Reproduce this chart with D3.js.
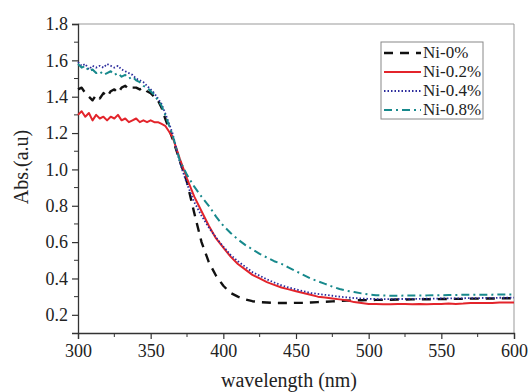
<!DOCTYPE html>
<html><head><meta charset="utf-8">
<script src="https://cdn.jsdelivr.net/npm/d3@7"></script>
<style>body{margin:0;background:#fff}svg{display:block}text{font-family:"Liberation Serif","Times New Roman",serif;fill:#222}</style>
</head><body><svg id="c" width="529" height="392"></svg>
<script>
const wavelength = [300,302.5,305,307.5,310,312.5,315,317.5,320,322.5,325,327.5,330,332.5,335,337.5,340,342.5,345,347.5,350,352.5,355,357.5,360,
365,370,375,380,385,390,395,400,405,410,415,420,425,430,435,440,445,450,455,460,465,470,475,480,485,490,495,500,505,510,515,520,525,530,535,540,545,550,555,560,565,570,575,580,585,590,595,600];

const ni0 = [1.44,1.45,1.42,1.40,1.38,1.41,1.39,1.42,1.40,1.43,1.44,1.42,1.45,1.46,1.44,1.45,1.45,1.44,1.45,1.43,1.42,1.40,1.38,1.34,1.28,
1.17,1.05,0.93,0.76,0.60,0.49,0.415,0.36,0.32,0.30,0.285,0.275,0.27,0.268,0.265,0.265,0.265,0.266,0.266,0.268,0.27,0.272,0.274,0.276,0.278,0.28,0.28,0.281,0.282,0.282,0.283,0.284,0.284,0.285,0.285,0.286,0.286,0.287,0.287,0.288,0.288,0.289,0.289,0.29,0.29,0.29,0.291,0.291];

const ni02 = [1.30,1.32,1.29,1.31,1.27,1.30,1.28,1.29,1.27,1.29,1.28,1.30,1.27,1.28,1.26,1.27,1.28,1.26,1.27,1.26,1.27,1.26,1.26,1.25,1.24,
1.18,1.06,0.95,0.85,0.77,0.69,0.62,0.57,0.52,0.48,0.45,0.42,0.40,0.38,0.365,0.35,0.34,0.33,0.32,0.31,0.30,0.295,0.29,0.285,0.28,0.27,0.265,0.26,0.26,0.258,0.258,0.26,0.26,0.258,0.26,0.258,0.26,0.26,0.262,0.26,0.262,0.265,0.265,0.265,0.265,0.268,0.268,0.268];

const ni04 = [1.59,1.57,1.58,1.55,1.57,1.56,1.57,1.56,1.58,1.57,1.56,1.57,1.55,1.54,1.53,1.52,1.50,1.49,1.48,1.46,1.44,1.42,1.39,1.36,1.31,
1.20,1.04,0.92,0.82,0.745,0.68,0.625,0.575,0.53,0.495,0.465,0.435,0.415,0.395,0.378,0.362,0.35,0.34,0.33,0.32,0.315,0.31,0.305,0.30,0.296,0.292,0.29,0.288,0.287,0.286,0.286,0.287,0.287,0.288,0.288,0.289,0.289,0.29,0.29,0.291,0.291,0.292,0.292,0.293,0.293,0.294,0.294,0.295];

const ni08 = [1.58,1.56,1.57,1.54,1.55,1.53,1.54,1.52,1.53,1.54,1.52,1.53,1.51,1.52,1.50,1.51,1.49,1.48,1.46,1.45,1.43,1.41,1.38,1.35,1.30,
1.19,1.05,0.97,0.905,0.85,0.80,0.74,0.69,0.65,0.615,0.585,0.56,0.535,0.515,0.495,0.48,0.46,0.44,0.42,0.40,0.385,0.37,0.355,0.342,0.332,0.325,0.318,0.312,0.308,0.306,0.305,0.305,0.306,0.306,0.307,0.307,0.308,0.308,0.309,0.309,0.31,0.31,0.31,0.311,0.311,0.312,0.312,0.312];

const seriesNames = ["Ni-0%","Ni-0.2%","Ni-0.4%","Ni-0.8%"];
const xTicks = [300,350,400,450,500,550,600];
const yTicks = [0.2,0.4,0.6,0.8,1.0,1.2,1.4,1.6,1.8];

const styles = [
  {color:"#111111", width:2.4, dash:"9,7"},
  {color:"#e3242b", width:2, dash:null},
  {color:"#2b2b9c", width:1.8, dash:"1.5,2"},
  {color:"#17898c", width:2, dash:"8,4,2,4"}
];
const allSeries = [ni0, ni02, ni04, ni08];

const svg = d3.select("#c");
const L=78, R=514, T=24, B=333;
const x = d3.scaleLinear().domain([300,600]).range([L,R]);
const y = d3.scaleLinear().domain([0.1,1.8]).range([B,T]);

svg.append("line").attr("x1",L).attr("x2",R).attr("y1",T).attr("y2",T).attr("stroke","#999").attr("stroke-width",1);
svg.append("line").attr("x1",R).attr("x2",R).attr("y1",T).attr("y2",B).attr("stroke","#999").attr("stroke-width",1);

const xMinor = d3.range(325,600,50);
const yMinor = [0.3,0.5,0.7,0.9,1.1,1.3,1.5,1.7];

const gx = svg.append("g").attr("transform",`translate(0,${B})`)
  .call(d3.axisBottom(x).tickValues(xTicks).tickFormat(d3.format("d")).tickSize(6).tickPadding(5));
gx.append("g").selectAll("line").data(xMinor).join("line")
  .attr("x1",d=>x(d)).attr("x2",d=>x(d)).attr("y1",0).attr("y2",4).attr("stroke","#333");
const gy = svg.append("g").attr("transform",`translate(${L},0)`)
  .call(d3.axisLeft(y).tickValues(yTicks).tickFormat(d3.format(".1f")).tickSize(6).tickPadding(4));
gy.append("g").selectAll("line").data(yMinor).join("line")
  .attr("x1",0).attr("x2",-4).attr("y1",d=>y(d)).attr("y2",d=>y(d)).attr("stroke","#333");
[gx,gy].forEach(g=>{
  g.select(".domain").attr("stroke","#333").attr("stroke-width",1.3);
  g.selectAll(".tick line").attr("stroke","#333").attr("stroke-width",1.2);
  g.selectAll("text").attr("font-family","Liberation Serif").attr("font-size",18).attr("fill","#222");
});

const line = d3.line().x((d,i)=>x(wavelength[i])).y(d=>y(d));
allSeries.forEach((s,k)=>{
  svg.append("path").datum(s).attr("d",line).attr("fill","none")
    .attr("stroke",styles[k].color).attr("stroke-width",styles[k].width)
    .attr("stroke-dasharray",styles[k].dash).attr("stroke-linejoin","round");
});

const lg = svg.append("g");
lg.append("rect").attr("x",381).attr("y",42).attr("width",102).attr("height",77)
  .attr("fill","#fff").attr("stroke","#888").attr("stroke-width",1);
seriesNames.forEach((n,k)=>{
  const yy = 53 + k*19;
  lg.append("line").attr("x1",384).attr("x2",421).attr("y1",yy).attr("y2",yy)
    .attr("stroke",styles[k].color).attr("stroke-width",styles[k].width).attr("stroke-dasharray",styles[k].dash);
  lg.append("text").attr("x",423).attr("y",yy+5).attr("font-size",17).text(n);
});

svg.append("text").attr("transform","translate(28,167) rotate(-90)").attr("text-anchor","middle")
  .attr("font-size",20).text("Abs.(a.u)");
svg.append("text").attr("x",289).attr("y",387).attr("text-anchor","middle").attr("font-size",20).text("wavelength (nm)");
</script></body></html>
